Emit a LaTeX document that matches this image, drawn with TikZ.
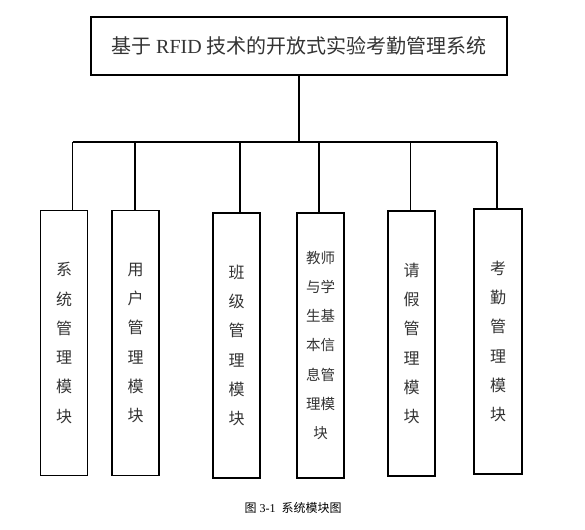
\documentclass[tikz,border=0pt]{standalone}
\usepackage{fontspec}
\setmainfont{Liberation Serif}
\newfontfamily\cjk{Noto Sans CJK SC}
\begin{document}
\begin{tikzpicture}[x=1pt,y=-1pt,
  line width=1.3pt,
  modbox/.style={draw, minimum width=47pt, minimum height=265pt, inner sep=0pt,
    align=center, text=black!80, font=\fontsize{16pt}{29.3pt}\selectfont\cjk}]
  \useasboundingbox (0,0) rectangle (585,529);
  % top box
  \node[draw, minimum width=416pt, minimum height=58pt, text=black!80,
    font=\fontsize{20pt}{22pt}\selectfont] (sys) at (299,46)
    {{\cjk 基于} RFID {\cjk 技术的开放式实验考勤管理系统}};
  % modules
  \node[modbox] (m1) at (64,343) {系\\统\\管\\理\\模\\块};
  \node[modbox] (m2) at (135.5,343) {用\\户\\管\\理\\模\\块};
  \node[modbox] (m3) at (236.5,345.5) {班\\级\\管\\理\\模\\块};
  \node[modbox, font=\fontsize{14.5pt}{29.3pt}\selectfont\cjk] (m4) at (320.5,345.5)
    {教师\\与学\\生基\\本信\\息管\\理模\\块};
  \node[modbox] (m5) at (411.5,343.5) {请\\假\\管\\理\\模\\块};
  \node[modbox, minimum width=48pt] (m6) at (498,341.5) {考\\勤\\管\\理\\模\\块};
  % bar and branches
  \coordinate (j1) at (72.7,142);
  \coordinate (j2) at (135,142);
  \coordinate (j3) at (240,142);
  \coordinate (j4) at (319,142);
  \coordinate (j5) at (410.7,142);
  \coordinate (j6) at (497,142);
  \draw (sys.south) -- (sys.south |- j1);
  \draw (j1) -- (j6);
  \foreach \j/\m in {j1/m1,j2/m2,j3/m3,j4/m4,j5/m5,j6/m6}
    \draw (\j) -- (\j |- \m.north);
  % caption
  \node[font=\fontsize{12pt}{14pt}\selectfont] (cap) at (293,508)
    {{\cjk 图} 3-1\ \ {\cjk 系统模块图}};
\end{tikzpicture}
\end{document}
